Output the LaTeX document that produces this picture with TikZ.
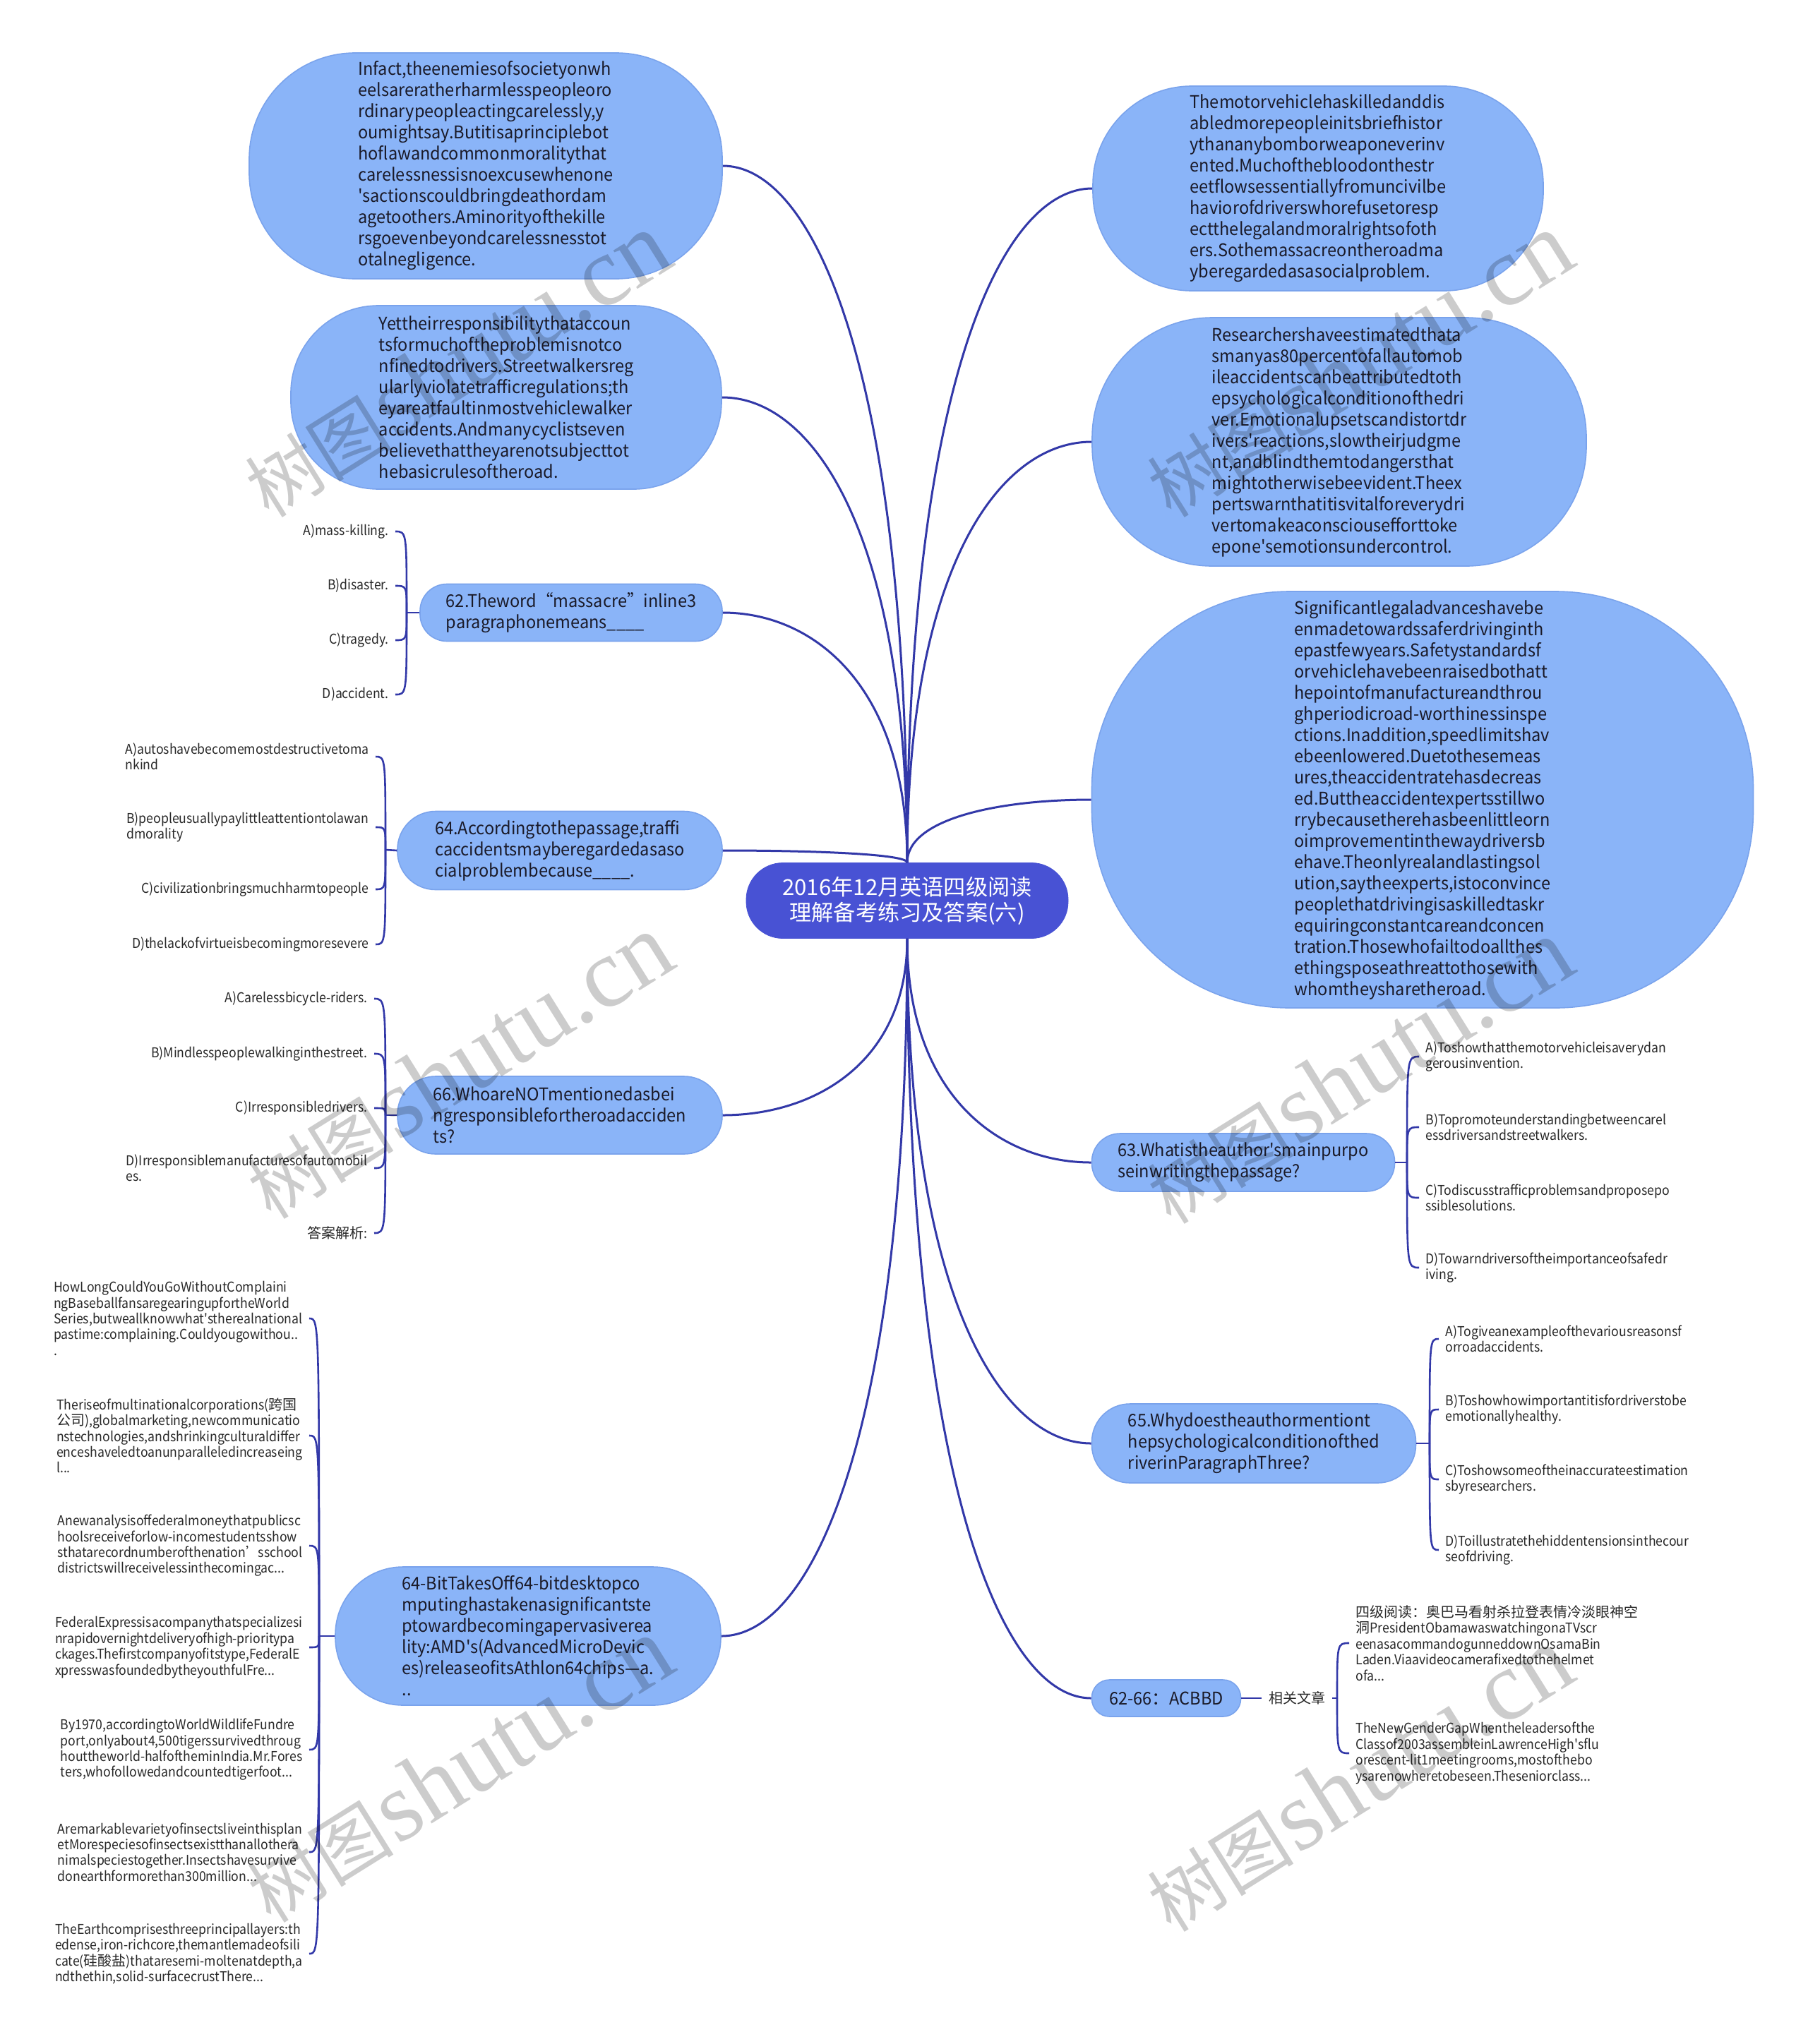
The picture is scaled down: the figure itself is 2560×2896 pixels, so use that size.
\documentclass[tikz,border=0pt]{standalone}
\usepackage{fontspec}
\newfontfamily\nf{Noto Sans CJK SC}
\newfontfamily\nfb{Noto Sans CJK SC}[FakeStretch=0.95]
\newfontfamily\nfk{Noto Sans CJK SC}[FakeStretch=0.92]
\newfontfamily\wmserif{Liberation Serif}
\newcommand\cj[1]{{\nf\fontsize{10}{11.2}\selectfont #1}}
\usetikzlibrary{calc}
\definecolor{bub}{RGB}{138,180,248}
\definecolor{bubedge}{RGB}{122,163,236}
\definecolor{rootc}{RGB}{72,82,212}
\definecolor{linkc}{RGB}{50,56,168}
\definecolor{txt}{RGB}{26,26,40}
\definecolor{ctxt}{RGB}{40,40,40}
\tikzset{
 bubble/.style={fill=bub, draw=bubedge, line width=0.8pt, align=left, text=txt, font=\nfb\fontsize{12.4}{15}\selectfont, inner sep=0pt},
 rootnode/.style={fill=rootc, draw=rootc, rounded corners=26pt, align=center, text=white, font=\nf\fontsize{15.6}{18}\selectfont, minimum width=228pt, minimum height=53.5pt, inner sep=0pt},
 kid/.style={align=left, text=ctxt, font=\nfk\fontsize{9.6}{11.2}\selectfont, inner xsep=4.5pt, inner ysep=1pt},
 conn/.style={draw=linkc, line width=1.5pt},
 kconn/.style={draw=linkc, line width=1.3pt},
 wm/.style={rotate=32, text=black, opacity=0.2, inner sep=0pt}
}
\newcommand\rlink[2]{\draw[conn] (#1) .. controls ($(#1)!0.7!(#1|-#2)$) and ($(#1|-#2)!0.5!(#2)$) .. (#2);}
\newcommand\klink[2]{\draw[kconn] (#1) .. controls (#1|-#2) .. (#2);}
\begin{document}
\begin{tikzpicture}[x=0.5pt,y=-0.5pt]
\useasboundingbox (0,0) rectangle (2560,2896);
\fill[white] (0,0) rectangle (2560,2896);

% root
\node[rootnode] (C) at (1285,1276) {2016年12月英语四级阅读\\理解备考练习及答案(六)};

% left bubbles
\node[bubble, minimum width=335pt, minimum height=160pt, rounded corners=75pt] (L1) at (688,235) {Infact,theenemiesofsocietyonwh\\eelsareratherharmlesspeopleoro\\rdinarypeopleactingcarelessly,y\\oumightsay.Butitisaprinciplebot\\hoflawandcommonmoralitythat\\carelessnessisnoexcusewhenone\\'sactionscouldbringdeathordam\\agetoothers.Aminorityofthekille\\rsgoevenbeyondcarelessnesstot\\otalnegligence.};
\node[bubble, minimum width=305pt, minimum height=130pt, rounded corners=62pt] (L2) at (717,563) {Yettheirresponsibilitythataccoun\\tsformuchoftheproblemisnotco\\nfinedtodrivers.Streetwalkersreg\\ularlyviolatetrafficregulations;th\\eyareatfaultinmostvehiclewalker\\accidents.Andmanycyclistseven\\believethattheyarenotsubjecttot\\hebasicrulesoftheroad.};
\node[bubble, minimum width=214pt, minimum height=40.5pt, rounded corners=19pt] (L3) at (809,868) {62.Theword“massacre”inline3\\paragraphonemeans\_\_\_\_};
\node[bubble, minimum width=230pt, minimum height=55.5pt, rounded corners=27pt] (L4) at (793,1205) {64.Accordingtothepassage,traffi\\caccidentsmayberegardedasaso\\cialproblembecause\_\_\_\_.};
\node[bubble, minimum width=230pt, minimum height=55pt, rounded corners=27pt] (L5) at (793,1580) {66.WhoareNOTmentionedasbei\\ngresponsiblefortheroadacciden\\ts?};
\node[bubble, minimum width=273pt, minimum height=98pt, rounded corners=48pt] (L6) at (748,2318) {64-BitTakesOff64-bitdesktopco\\mputinghastakenasignificantste\\ptowardbecomingapervasiverea\\lity:AMD's(AdvancedMicroDevic\\es)releaseofitsAthlon64chips—a.\\..};

% right bubbles
\node[bubble, minimum width=319pt, minimum height=145pt, rounded corners=70pt] (R1) at (1867,267) {Themotorvehiclehaskilledanddis\\abledmorepeopleinitsbriefhistor\\ythananybomborweaponeverinv\\ented.Muchofthebloodonthestr\\eetflowsessentiallyfromuncivilbe\\haviorofdriverswhorefusetoresp\\ectthelegalandmoralrightsofoth\\ers.Sothemassacreontheroadma\\yberegardedasasocialproblem.};
\node[bubble, minimum width=350pt, minimum height=176pt, rounded corners=85pt] (R2) at (1897,626) {Researchershaveestimatedthata\\smanyas80percentofallautomob\\ileaccidentscanbeattributedtoth\\epsychologicalconditionofthedri\\ver.Emotionalupsetscandistortdr\\ivers'reactions,slowtheirjudgme\\nt,andblindthemtodangersthat\\mightotherwisebeevident.Theex\\pertswarnthatitisvitalforeverydri\\vertomakeaconsciousefforttoke\\epone'semotionsundercontrol.};
\node[bubble, minimum width=468.5pt, minimum height=295pt, rounded corners=140pt] (R3) at (2015,1133) {Significantlegaladvanceshavebe\\enmadetowardssaferdrivinginth\\epastfewyears.Safetystandardsf\\orvehiclehavebeenraisedbothatt\\hepointofmanufactureandthrou\\ghperiodicroad-worthinessinspe\\ctions.Inaddition,speedlimitshav\\ebeenlowered.Duetothesemeas\\ures,theaccidentratehasdecreas\\ed.Buttheaccidentexpertsstillwo\\rrybecausetherehasbeenlittleorn\\oimprovementinthewaydriversb\\ehave.Theonlyrealandlastingsol\\ution,saytheexperts,istoconvince\\peoplethatdrivingisaskilledtaskr\\equiringconstantcareandconcen\\tration.Thosewhofailtodoallthes\\ethingsposeathreattothosewith\\whomtheysharetheroad.};
\node[bubble, minimum width=214.5pt, minimum height=41pt, rounded corners=20pt] (R4) at (1761,1647) {63.Whatistheauthor'smainpurpo\\seinwritingthepassage?};
\node[bubble, minimum width=229.5pt, minimum height=56pt, rounded corners=27pt] (R5) at (1776,2045) {65.Whydoestheauthormentiont\\hepsychologicalconditionofthed\\riverinParagraphThree?};
\node[bubble, minimum width=105.5pt, minimum height=26pt, rounded corners=12.5pt] (R6) at (1652,2406) {62-66{\nf：}ACBBD};

% root links
\rlink{C.north}{L1.east}
\rlink{C.north}{L2.east}
\rlink{C.north}{L3.east}
\rlink{C.north}{L4.east}
\rlink{C.north}{R1.west}
\rlink{C.north}{R2.west}
\rlink{C.north}{R3.west}
\rlink{C.south}{L5.east}
\rlink{C.south}{L6.east}
\rlink{C.south}{R4.west}
\rlink{C.south}{R5.west}
\rlink{C.south}{R6.west}

% L3 children
\node[kid, anchor=east] (l3a) at (560,753) {A)mass-killing.};
\node[kid, anchor=east] (l3b) at (560,830) {B)disaster.};
\node[kid, anchor=east] (l3c) at (560,907) {C)tragedy.};
\node[kid, anchor=east] (l3d) at (560,984) {D)accident.};
\coordinate (j3) at (576,868);
\draw[kconn] (L3.west) -- (j3);
\klink{j3}{l3a.east}\klink{j3}{l3b.east}\klink{j3}{l3c.east}\klink{j3}{l3d.east}

% L4 children
\node[kid, anchor=east] (l4a) at (532,1072) {A)autoshavebecomemostdestructivetoma\\nkind};
\node[kid, anchor=east] (l4b) at (532,1172) {B)peopleusuallypaylittleattentiontolawan\\dmorality};
\node[kid, anchor=east] (l4c) at (532,1260) {C)civilizationbringsmuchharmtopeople};
\node[kid, anchor=east] (l4d) at (532,1338) {D)thelackofvirtueisbecomingmoresevere};
\coordinate (j4) at (546,1204);
\draw[kconn] (L4.west) -- (j4);
\klink{j4}{l4a.east}\klink{j4}{l4b.east}\klink{j4}{l4c.east}\klink{j4}{l4d.east}

% L5 children
\node[kid, anchor=east] (l5a) at (530,1415) {A)Carelessbicycle-riders.};
\node[kid, anchor=east] (l5b) at (530,1493) {B)Mindlesspeoplewalkinginthestreet.};
\node[kid, anchor=east] (l5c) at (530,1570) {C)Irresponsibledrivers.};
\node[kid, anchor=east] (l5d) at (530,1655) {D)Irresponsiblemanufacturesofautomobil\\es.};
\node[kid, anchor=east] (l5e) at (530,1747) {\cj{答案解析}:};
\coordinate (j5) at (546,1580);
\draw[kconn] (L5.west) -- (j5);
\klink{j5}{l5a.east}\klink{j5}{l5b.east}\klink{j5}{l5c.east}\klink{j5}{l5d.east}\klink{j5}{l5e.east}

% L6 children
\node[kid, anchor=east] (l6a) at (438,1868) {HowLongCouldYouGoWithoutComplaini\\ngBaseballfansaregearingupfortheWorld\\Series,butweallknowwhat'stherealnational\\pastime:complaining.Couldyougowithou..\\.};
\node[kid, anchor=east] (l6b) at (438,2034) {Theriseofmultinationalcorporations(\cj{跨国}\\\cj{公司}),globalmarketing,newcommunicatio\\nstechnologies,andshrinkingculturaldiffer\\enceshaveledtoanunparalleledincreaseing\\l...};
\node[kid, anchor=east] (l6c) at (438,2190) {Anewanalysisoffederalmoneythatpublicsc\\hoolsreceiveforlow-incomestudentsshow\\sthatarecordnumberofthenation’sschool\\districtswillreceivelessinthecomingac...};
\node[kid, anchor=east] (l6d) at (438,2334) {FederalExpressisacompanythatspecializesi\\nrapidovernightdeliveryofhigh-prioritypa\\ckages.Thefirstcompanyofitstype,FederalE\\xpresswasfoundedbytheyouthfulFre...};
\node[kid, anchor=east] (l6e) at (438,2479) {By1970,accordingtoWorldWildlifeFundre\\port,onlyabout4,500tigerssurvivedthroug\\houttheworld-halfoftheminIndia.Mr.Fores\\ters,whofollowedandcountedtigerfoot...};
\node[kid, anchor=east] (l6f) at (438,2624) {Aremarkablevarietyofinsectsliveinthisplan\\etMorespeciesofinsectsexistthanallothera\\nimalspeciestogether.Insectshavesurvive\\donearthformorethan300million...};
\node[kid, anchor=east] (l6g) at (438,2768) {TheEarthcomprisesthreeprincipallayers:th\\edense,iron-richcore,themantlemadeofsili\\cate(\cj{硅酸盐})thataresemi-moltenatdepth,a\\ndthethin,solid-surfacecrustThere...};
\coordinate (j6) at (452,2318);
\draw[kconn] (L6.west) -- (j6);
\klink{j6}{l6a.east}\klink{j6}{l6b.east}\klink{j6}{l6c.east}\klink{j6}{l6d.east}\klink{j6}{l6e.east}\klink{j6}{l6f.east}\klink{j6}{l6g.east}

% R4 children
\node[kid, anchor=west] (r4a) at (2010,1497) {A)Toshowthatthemotorvehicleisaverydan\\gerousinvention.};
\node[kid, anchor=west] (r4b) at (2010,1597) {B)Topromoteunderstandingbetweencarel\\essdriversandstreetwalkers.};
\node[kid, anchor=west] (r4c) at (2010,1697) {C)Todiscusstrafficproblemsandproposepo\\ssiblesolutions.};
\node[kid, anchor=west] (r4d) at (2010,1796) {D)Towarndriversoftheimportanceofsafedr\\iving.};
\coordinate (j7) at (1993,1647);
\draw[kconn] (R4.east) -- (j7);
\klink{j7}{r4a.west}\klink{j7}{r4b.west}\klink{j7}{r4c.west}\klink{j7}{r4d.west}

% R5 children
\node[kid, anchor=west] (r5a) at (2038,1897) {A)Togiveanexampleofthevariousreasonsf\\orroadaccidents.};
\node[kid, anchor=west] (r5b) at (2038,1997) {B)Toshowhowimportantitisfordriverstobe\\emotionallyhealthy.};
\node[kid, anchor=west] (r5c) at (2038,2096) {C)Toshowsomeoftheinaccurateestimation\\sbyresearchers.};
\node[kid, anchor=west] (r5d) at (2038,2196) {D)Toillustratethehiddentensionsinthecour\\seofdriving.};
\coordinate (j8) at (2025,2045);
\draw[kconn] (R5.east) -- (j8);
\klink{j8}{r5a.west}\klink{j8}{r5b.west}\klink{j8}{r5c.west}\klink{j8}{r5d.west}

% R6 children
\node[kid, inner xsep=5pt] (rel) at (1837,2406) {\cj{相关文章}};
\draw[kconn] (R6.east) -- (rel.west);
\node[kid, anchor=west] (r6a) at (1911,2328) {\cj{四级阅读：奥巴马看射杀拉登表情冷淡眼神空}\\\cj{洞}PresidentObamawaswatchingonaTVscr\\eenasacommandogunneddownOsamaBin\\Laden.Viaavideocamerafixedtothehelmet\\ofa...};
\node[kid, anchor=west] (r6b) at (1911,2484) {TheNewGenderGapWhentheleadersofthe\\Classof2003assembleinLawrenceHigh'sflu\\orescent-lit1meetingrooms,mostofthebo\\ysarenowheretobeseen.Theseniorclass...};
\coordinate (j9) at (1894,2406);
\draw[kconn] (rel.east) -- (j9);
\klink{j9}{r6a.west}\klink{j9}{r6b.west}

% watermarks
\foreach \n/\p in {1/{(647,517)},2/{(1925,517)},3/{(650,1511)},4/{(1925,1518)},5/{(650,2508)},6/{(1925,2521)}}{
  \node[wm] (wm\n) at \p {{\nf\fontsize{52}{52}\selectfont 树图}\,{\wmserif\fontsize{70}{70}\selectfont shutu.cn}};
}
\end{tikzpicture}
\end{document}
